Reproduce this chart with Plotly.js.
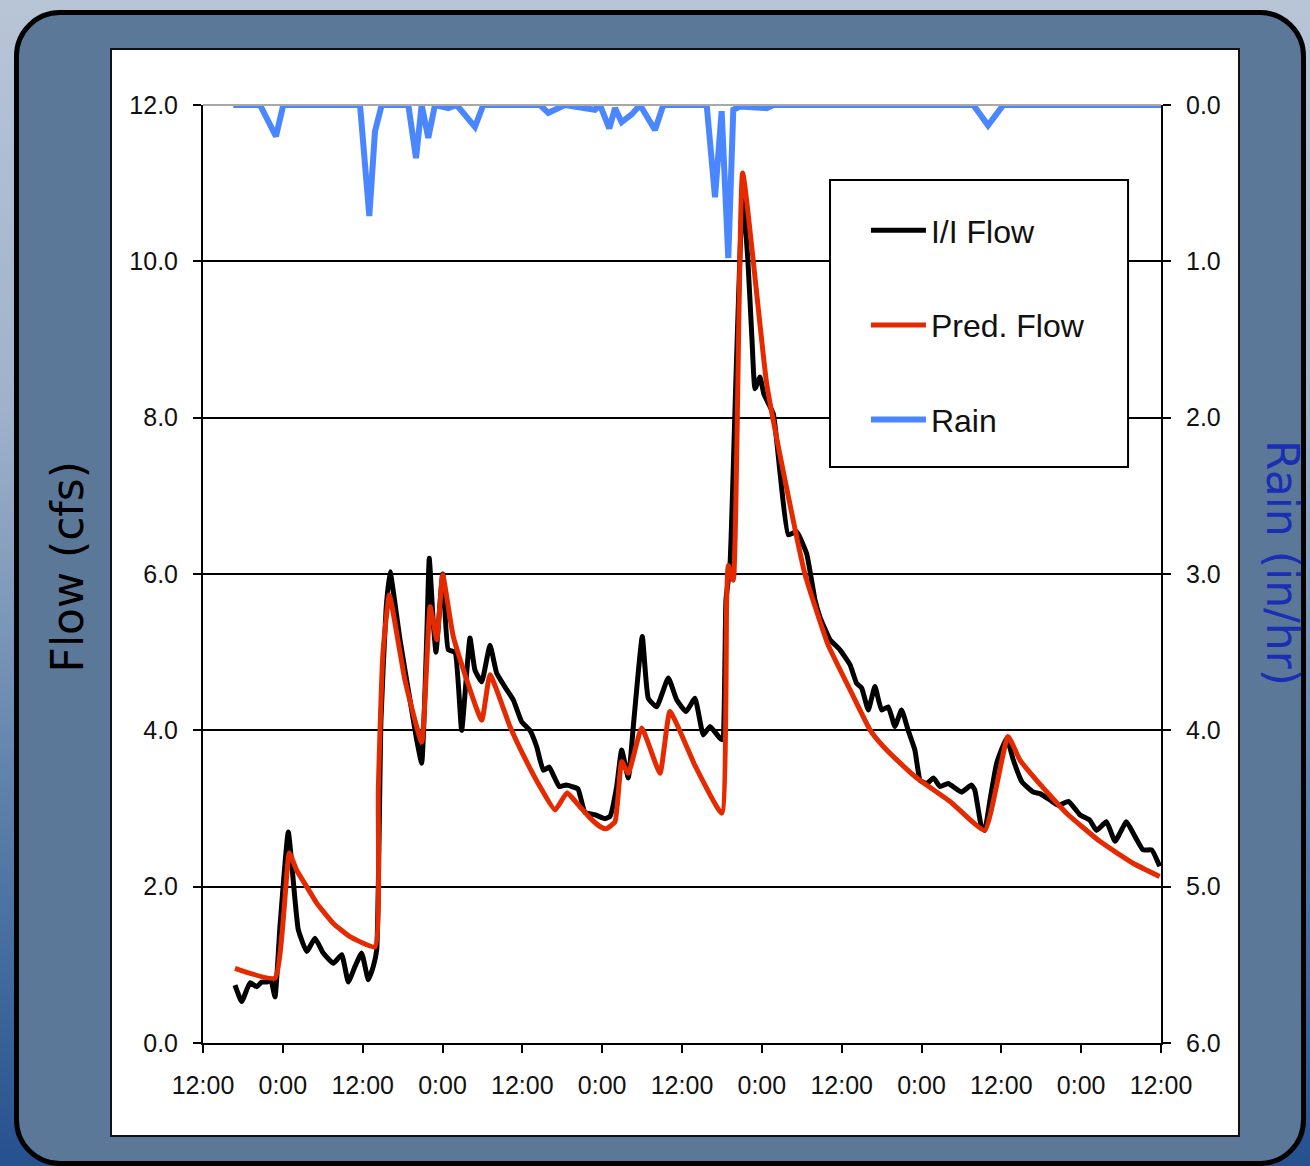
<!DOCTYPE html>
<html><head><meta charset="utf-8">
<script src="https://cdn.plot.ly/plotly-3.0.1.min.js"></script>
<style>
html,body{margin:0;padding:0;width:1310px;height:1166px;overflow:hidden;}
body{background:linear-gradient(to bottom,#b8c5d7 0%,#9fb2ca 35%,#5a7ea8 70%,#25518f 100%);position:relative;}
#bg{position:absolute;left:14px;top:10px;width:1292px;height:1156px;border:5px solid #000;border-radius:46px;background:#5c7899;box-sizing:border-box;}
#panel{position:absolute;left:110px;top:48px;width:1130px;height:1089px;background:#fff;border:2px solid #111;box-sizing:border-box;}
#chart{position:absolute;left:0;top:0;width:1310px;height:1166px;}
</style>
</head><body>
<div id="bg"></div>
<div id="panel"></div>
<div id="chart"></div>
<script>
// hours since the first 12:00 tick
const flowHours = [4.81,5.82,7.06,8.07,8.82,9.57,10.18,10.82,11.57,12.82,13.83,14.32,15.59,16.83,18.08,19.59,20.85,21.84,22.85,23.85,24.85,25.6,26.11,26.75,27.51,28.11,29.61,31.11,32.12,32.87,33.62,34.01,34.62,35.02,36.03,36.87,37.88,38.88,40.13,40.88,41.89,43.14,44.15,45.65,46.64,47.9,49.15,50.16,51.15,52.05,52.76,53.56,54.56,55.46,56.37,57.42,58.92,60.42,61.18,62.18,62.93,63.93,64.68,66.03,66.93,68.19,69.94,71.2,72.6,73.95,75.2,76.21,77.96,78.61,79.21,80.11,81.12,81.91,82.52,82.97,83.72,84.32,85.72,86.73,87.98,89.24,90.74,91.99,92.74,94.24,95.74,97.25,98.25,99.01,100.0,101.0,102.0,103.0,104.0,105.0,106.0,107.0,107.8,108.8,109.8,110.8,112.0,114.0,115.5,116.0,117.0,117.5,118.3,119.3,120.8,121.8,123.1,124.8,125.8,127.3,128.6,130.1,131.8,133.3,134.3,135.8,137.1,138.8,140.1,141.3,142.6,143.8];
const iiFlow = [0.74,0.53,0.77,0.72,0.78,0.78,0.81,0.59,1.49,2.70,1.83,1.45,1.17,1.34,1.15,1.02,1.13,0.78,0.98,1.15,0.81,0.98,1.19,4.13,5.54,6.03,5.16,4.39,3.88,3.58,5.16,6.20,5.37,5.00,6.00,5.03,5.00,4.00,5.18,4.77,4.62,5.09,4.73,4.52,4.39,4.11,4.00,3.79,3.49,3.53,3.41,3.28,3.30,3.28,3.25,2.95,2.92,2.87,2.90,3.28,3.75,3.39,4.05,5.20,4.41,4.30,4.67,4.39,4.24,4.41,3.94,4.05,3.88,5.67,6.11,8.50,10.85,10.0,9.0,8.37,8.52,8.30,8.05,7.30,6.50,6.54,6.26,5.67,5.45,5.16,5.03,4.84,4.60,4.54,4.26,4.56,4.26,4.30,4.05,4.26,4.00,3.75,3.36,3.32,3.39,3.28,3.32,3.21,3.30,3.24,2.77,2.72,3.11,3.58,3.90,3.62,3.34,3.21,3.19,3.11,3.04,3.09,2.92,2.85,2.72,2.83,2.58,2.83,2.64,2.47,2.47,2.26];
const predHours = [4.81,10.82,12.97,14.08,15.59,17.09,19.59,22.1,25.85,26.35,27.06,28.01,30.36,32.87,34.14,35.15,36.03,37.62,41.89,43.14,46.14,48.4,50.65,52.91,54.71,56.67,58.17,59.67,60.57,61.93,62.93,63.93,65.94,68.69,70.19,73.95,77.96,78.71,78.96,79.71,81.12,84.72,87.73,90.48,93.93,97.25,100.3,102.3,104.8,107.3,112.3,117.5,121.0,122.8,125.3,129.8,134.8,139.8,143.8];
const predFlow = [0.955,0.83,2.43,2.21,2.00,1.79,1.53,1.36,1.23,3.24,5.00,5.73,4.64,3.85,5.58,5.16,5.99,5.20,4.13,4.71,4.05,3.64,3.28,2.98,3.20,3.02,2.88,2.77,2.74,2.83,3.60,3.45,4.03,3.45,4.24,3.55,2.94,5.67,6.11,5.92,11.13,8.44,7.10,6.00,5.10,4.52,4.00,3.79,3.58,3.39,3.09,2.72,3.92,3.62,3.36,2.94,2.58,2.30,2.13];
const rainHours = [4.55,8.57,10.97,12.07,23.6,25.0,25.85,26.86,30.86,32.02,32.87,33.86,34.87,36.87,38.13,40.88,42.13,50.65,51.9,53.17,54.4,58.92,59.67,61.07,61.93,62.93,64.44,65.69,67.94,69.19,75.71,76.96,77.96,78.96,79.71,80.72,84.73,85.72,115.8,118.0,120.3,144];
const rain = [0,0,0.20,0,0,0.71,0.17,0,0,0.34,0,0.21,0,0.02,0,0.14,0,0,0.05,0.02,0,0.03,0,0.15,0.02,0.11,0.06,0,0.16,0,0,0.59,0.04,0.98,0.03,0.01,0.02,0,0,0.13,0,0];
const xTickVals = [0,12,24,36,48,60,72,84,96,108,120,132,144];
const xTickText = ["12:00","0:00","12:00","0:00","12:00","0:00","12:00","0:00","12:00","0:00","12:00","0:00","12:00"];

const tickFont = {family:'"Liberation Sans", Arial, sans-serif', size:25, color:'#111'};
const traces = [
  {x:flowHours, y:iiFlow, name:'I/I Flow', type:'scatter', mode:'lines', legendgroup:'a',
   line:{color:'#000', width:5, shape:'spline', smoothing:0.4}},
  {x:predHours, y:predFlow, name:'Pred. Flow', type:'scatter', mode:'lines', legendgroup:'b',
   line:{color:'#e52a00', width:5, shape:'spline', smoothing:0.4}},
  {x:rainHours, y:rain, name:'Rain', type:'scatter', mode:'lines', yaxis:'y2', legendgroup:'c',
   line:{color:'#4a86ff', width:6}}
];
const layout = {
  width:1310, height:1166,
  margin:{l:203, r:149, t:105, b:123, pad:0},
  paper_bgcolor:'rgba(0,0,0,0)', plot_bgcolor:'rgba(0,0,0,0)',
  showlegend:true,
  xaxis:{range:[0,144], tickmode:'array', tickvals:xTickVals, ticktext:xTickText,
    showgrid:false, zeroline:false, showline:true, linecolor:'#000', linewidth:2,
    ticks:'outside', ticklen:8, tickwidth:2, tickcolor:'#000', tickfont:tickFont, ticklabelstandoff:11, fixedrange:true},
  yaxis:{range:[0,12], dtick:2, tick0:0, tickformat:'.1f', showgrid:true, gridcolor:'#000', gridwidth:2,
    zeroline:false, showline:true, linecolor:'#000', linewidth:2,
    ticks:'outside', ticklen:8, tickwidth:2, tickcolor:'#000', tickfont:tickFont, ticklabelstandoff:10, fixedrange:true},
  yaxis2:{range:[6,0], dtick:1, tick0:0, tickformat:'.1f', overlaying:'y', side:'right', showgrid:false,
    zeroline:false, showline:true, linecolor:'#000', linewidth:2,
    ticks:'outside', ticklen:8, tickwidth:2, tickcolor:'#000', tickfont:tickFont, ticklabelstandoff:10, fixedrange:true},
  legend:{x:0.692, y:0.8955, xanchor:'left', yanchor:'top', bgcolor:'rgba(0,0,0,0)', borderwidth:0,
    font:{family:'"Liberation Sans", Arial, sans-serif', size:32, color:'#111'},
    itemwidth:55, tracegroupgap:50, traceorder:'grouped'},
  shapes:[
    {type:'rect', xref:'paper', yref:'paper', x0:0.6545, x1:0.9656, y0:0.614, y1:0.920,
     fillcolor:'#fff', line:{color:'#000', width:2}, layer:'above'},
    {type:'line', xref:'paper', yref:'paper', x0:0, x1:1, y0:1, y1:1,
     line:{color:'#a8a8a8', width:2}, layer:'above'}
  ],
  annotations:[
    {text:'Flow (cfs)', xref:'paper', yref:'paper', x:-0.141, y:0.508, xanchor:'center', yanchor:'middle',
     textangle:-90, showarrow:false, font:{family:'"DejaVu Sans", sans-serif', size:44, color:'#000'}},
    {text:'Rain (in/hr)', xref:'paper', yref:'paper', x:1.127, y:0.512, xanchor:'center', yanchor:'middle',
     textangle:90, showarrow:false, font:{family:'"DejaVu Sans", sans-serif', size:44, color:'#1b2fb5'}}
  ]
};
Plotly.newPlot('chart', traces, layout, {displayModeBar:false, staticPlot:true});
</script>
</body></html>
